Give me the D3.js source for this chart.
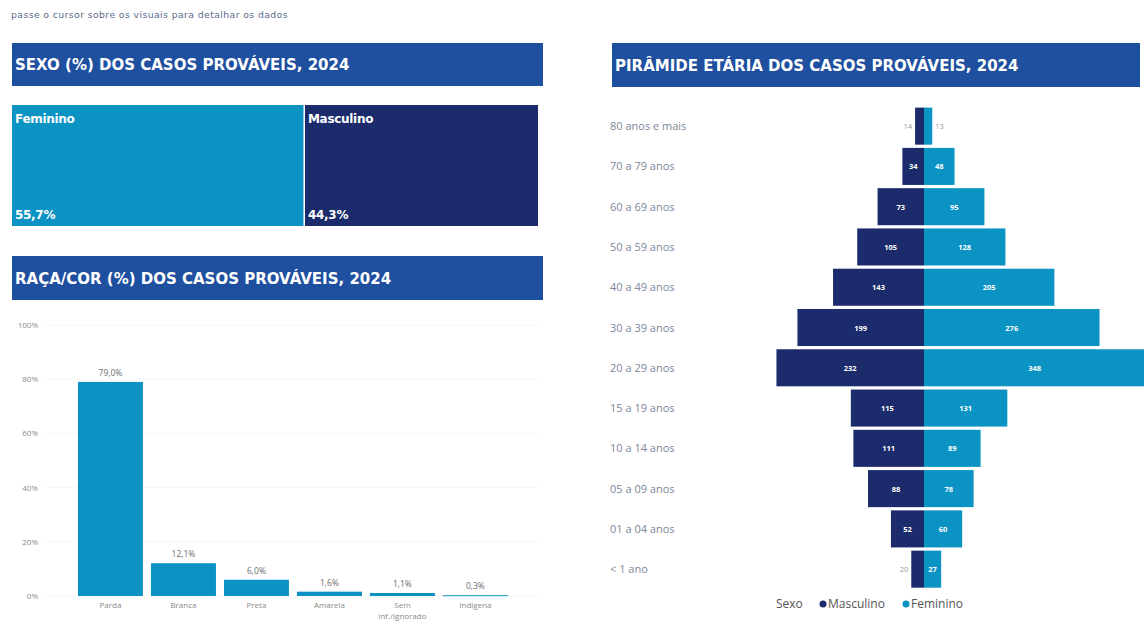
<!DOCTYPE html>
<html><head><meta charset="utf-8">
<script src="https://cdn.jsdelivr.net/npm/d3@7"></script>
<style>
html,body{margin:0;padding:0;background:#fff;}
svg{display:block;}
</style></head>
<body>
<svg id="c" width="1144" height="633"></svg>
<script>
// ---- data ----
const sexCategories = ["Feminino", "Masculino"];
const sexValues = [55.7, 44.3];

const raceCategories = ["Parda", "Branca", "Preta", "Amarela", "Sem inf./ignorado", "Indígena"];
const raceValues = [79.0, 12.1, 6.0, 1.6, 1.1, 0.3];
const raceTicks = [0, 20, 40, 60, 80, 100];

const ageGroups = ["80 anos e mais", "70 a 79 anos", "60 a 69 anos", "50 a 59 anos", "40 a 49 anos",
  "30 a 39 anos", "20 a 29 anos", "15 a 19 anos", "10 a 14 anos", "05 a 09 anos", "01 a 04 anos", "< 1 ano"];
const maleValues = [14, 34, 73, 105, 143, 199, 232, 115, 111, 88, 52, 20];
const femaleValues = [13, 48, 95, 128, 205, 276, 348, 131, 89, 78, 60, 27];

// ---- styles ----
const NAVY = "#1b2b6b", LIGHT = "#0b93c3", HEADER = "#1f4f9f";
const titleFont = "'DejaVu Sans', sans-serif";
const svg = d3.select("#c");

svg.append("text").attr("x", 11).attr("y", 18)
  .attr("font-family", "'DejaVu Sans', sans-serif").attr("font-size", 9.3).attr("letter-spacing", 0.4)
  .attr("fill", "#5a6a8c").text("passe o cursor sobre os visuais para detalhar os dados");

function header(x, y, w, h, txt) {
  svg.append("rect").attr("x", x).attr("y", y).attr("width", w).attr("height", h).attr("fill", HEADER);
  svg.append("text").attr("x", x + 3).attr("y", y + h / 2 + 5.5)
    .attr("font-family", titleFont).attr("font-weight", "bold").attr("font-size", 15)
    .attr("letter-spacing", 0).attr("fill", "#fff").text(txt);
}
header(12, 43, 531, 43, "SEXO (%) DOS CASOS PROVÁVEIS, 2024");
header(12, 256, 531, 44, "RAÇA/COR (%) DOS CASOS PROVÁVEIS, 2024");
header(612, 43, 528, 44, "PIRÂMIDE ETÁRIA DOS CASOS PROVÁVEIS, 2024");

// ---- treemap (sexo) ----
const tmX = d3.scaleLinear().domain([0, d3.sum(sexValues)]).range([12, 538]);
const tmColors = [LIGHT, NAVY];
let cum = 0;
sexCategories.forEach((c, i) => {
  const x0 = tmX(cum), x1 = tmX(cum + sexValues[i]);
  cum += sexValues[i];
  svg.append("rect").attr("x", x0).attr("y", 105).attr("width", x1 - x0 - (i === 0 ? 1.5 : 0))
    .attr("height", 121).attr("fill", tmColors[i]);
  svg.append("text").attr("x", x0 + 3).attr("y", 123).attr("fill", "#fff")
    .attr("font-family", titleFont).attr("font-weight", "bold").attr("font-size", 12).attr("letter-spacing", -0.3).text(c);
  svg.append("text").attr("x", x0 + 3).attr("y", 219).attr("fill", "#fff")
    .attr("font-family", titleFont).attr("font-weight", "bold").attr("font-size", 12).attr("letter-spacing", -0.3)
    .text(d3.format(".1f")(sexValues[i]).replace(".", ",") + "%");
});

// ---- bar chart (raça/cor) ----
const bx = d3.scaleBand().domain(raceCategories).range([73.6, 512.3]).paddingInner(0.11).paddingOuter(0.06);
const by = d3.scaleLinear().domain([0, 100]).range([596, 325]);
const g = svg.append("g");
raceTicks.forEach(t => {
  g.append("line").attr("x1", 45).attr("x2", 540).attr("y1", by(t)).attr("y2", by(t))
    .attr("stroke", "#eeeeee").attr("stroke-width", 1).attr("stroke-dasharray", "1,1");
  g.append("text").attr("x", 38).attr("y", by(t) + 3).attr("text-anchor", "end")
    .attr("font-family", "'Open Sans', sans-serif").attr("font-size", 8).attr("fill", "#8a8a8a")
    .text(t + "%");
});
raceCategories.forEach((c, i) => {
  const v = raceValues[i];
  g.append("rect").attr("x", bx(c)).attr("y", by(v)).attr("width", bx.bandwidth())
    .attr("height", Math.max(by(0) - by(v), 1)).attr("fill", LIGHT);
  g.append("text").attr("x", bx(c) + bx.bandwidth() / 2).attr("y", by(v) - 6).attr("text-anchor", "middle")
    .attr("font-family", "'Open Sans', sans-serif").attr("font-size", 8.5).attr("fill", "#6c6c6c")
    .text(d3.format(".1f")(v).replace(".", ",") + "%");
  const lines = c === "Sem inf./ignorado" ? ["Sem", "inf./ignorado"] : [c];
  lines.forEach((l, j) => {
    g.append("text").attr("x", bx(c) + bx.bandwidth() / 2).attr("y", 608 + j * 11).attr("text-anchor", "middle")
      .attr("font-family", "'Open Sans', sans-serif").attr("font-size", 8).attr("fill", "#8a8a8a").text(l);
  });
});

// ---- pyramid ----
const CX = 924;
const py = d3.scaleBand().domain(ageGroups).range([106, 589.3]).paddingInner(0.08).paddingOuter(0.04);
const pw = d3.scaleLinear().domain([0, 350]).range([0, 222.6]);
ageGroups.forEach((a, i) => {
  const y = py(a), h = py.bandwidth(), cy = y + h / 2;
  svg.append("text").attr("x", 610).attr("y", cy + 4)
    .attr("font-family", "'Open Sans', sans-serif").attr("font-size", 11).attr("fill", "#7b879a").text(a);
  const m = maleValues[i], f = femaleValues[i];
  const mw = pw(m), fw = pw(f);
  svg.append("rect").attr("x", CX - mw).attr("y", y).attr("width", mw).attr("height", h).attr("fill", NAVY);
  svg.append("rect").attr("x", CX).attr("y", y).attr("width", fw).attr("height", h).attr("fill", LIGHT);
  const inside = w => w >= 14;
  svg.append("text")
    .attr("x", inside(mw) ? CX - mw / 2 : CX - mw - 3).attr("y", cy + 3)
    .attr("text-anchor", inside(mw) ? "middle" : "end")
    .attr("font-family", "'Open Sans', sans-serif").attr("font-weight", inside(mw) ? "bold" : "normal")
    .attr("font-size", 7.5).attr("fill", inside(mw) ? "#fff" : "#999").text(m);
  svg.append("text")
    .attr("x", inside(fw) ? CX + fw / 2 : CX + fw + 3).attr("y", cy + 3)
    .attr("text-anchor", inside(fw) ? "middle" : "start")
    .attr("font-family", "'Open Sans', sans-serif").attr("font-weight", inside(fw) ? "bold" : "normal")
    .attr("font-size", 7.5).attr("fill", inside(fw) ? "#fff" : "#999").text(f);
});

// legend
const lg = svg.append("g").attr("font-family", "'Open Sans', sans-serif").attr("font-size", 12).attr("fill", "#555");
lg.append("text").attr("x", 776).attr("y", 608).text("Sexo");
lg.append("circle").attr("cx", 823).attr("cy", 604).attr("r", 3.5).attr("fill", NAVY);
lg.append("text").attr("x", 828).attr("y", 608).text("Masculino");
lg.append("circle").attr("cx", 906).attr("cy", 604).attr("r", 3.5).attr("fill", LIGHT);
lg.append("text").attr("x", 911).attr("y", 608).text("Feminino");
</script>
</body></html>
